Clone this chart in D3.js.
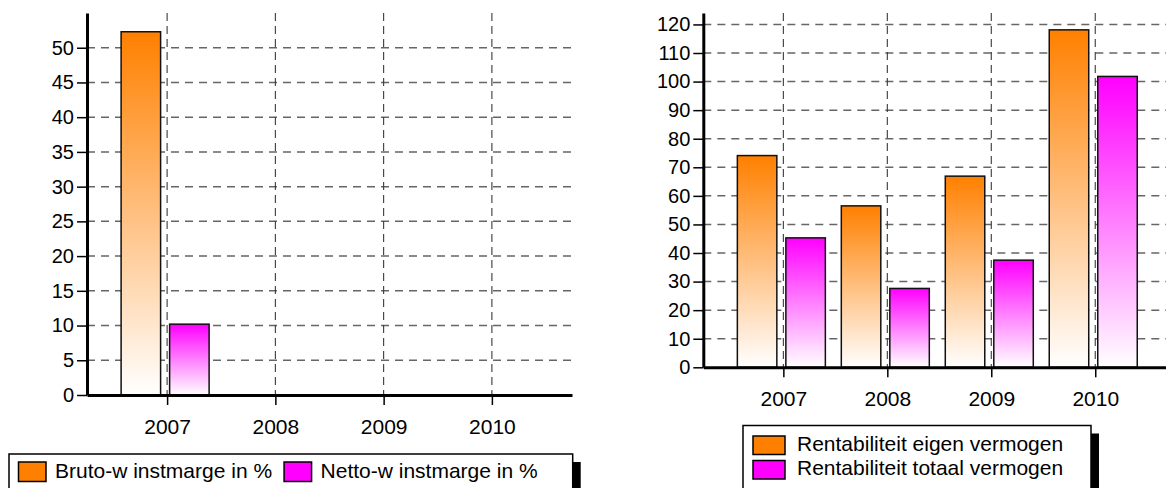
<!DOCTYPE html>
<html>
<head>
<meta charset="utf-8">
<script src="https://cdn.jsdelivr.net/npm/d3@7/dist/d3.min.js"></script>
<style>
  html, body { margin: 0; padding: 0; background: #fff; }
  svg { display: block; font-family: "Liberation Sans", Arial, sans-serif; }
</style>
</head>
<body>
<svg id="chart" width="1166" height="488"></svg>
<script>
// ---- data ----
const years = ["2007", "2008", "2009", "2010"];
const brutoWinstmarge = [52.3, null, null, null];
const nettoWinstmarge = [10.2, null, null, null];
const rentEigen = [74.1, 56.5, 66.9, 118.1];
const rentTotaal = [45.3, 27.6, 37.5, 101.8];
const leftTicks = [0, 5, 10, 15, 20, 25, 30, 35, 40, 45, 50];
const rightTicks = [0, 10, 20, 30, 40, 50, 60, 70, 80, 90, 100, 110, 120];
const leftLabels = ["Bruto-w instmarge in %", "Netto-w instmarge in %"];
const rightLabels = ["Rentabiliteit eigen vermogen", "Rentabiliteit totaal vermogen"];
const colors = ["#FF8000", "#FF00FF"];

const svg = d3.select("#chart");
const defs = svg.append("defs");
colors.forEach((c, i) => {
  const g = defs.append("linearGradient").attr("id", "grad" + i)
    .attr("x1", 0).attr("y1", 0).attr("x2", 0).attr("y2", 1);
  g.append("stop").attr("offset", "0%").attr("stop-color", c);
  g.append("stop").attr("offset", "100%").attr("stop-color", "#ffffff");
});

function drawChart(cfg) {
  const g = svg.append("g");
  const x = d3.scalePoint().domain(years).range([cfg.x0, cfg.x1]).padding(cfg.pad);
  const y = d3.scaleLinear().domain([0, cfg.ymax]).range([cfg.y0, cfg.yTop]);
  const sub = d3.scaleBand().domain([0, 1]).range([-46, 42]).paddingInner(0.186);

  // horizontal grid
  g.append("g").selectAll("line").data(cfg.ticks.filter(t => t > 0)).join("line")
    .attr("x1", cfg.x0).attr("x2", Math.min(cfg.x1, 1166))
    .attr("y1", d => y(d)).attr("y2", d => y(d))
    .attr("stroke", "#666").attr("stroke-width", 1.5)
    .attr("stroke-dasharray", "8,6");
  // vertical grid
  g.append("g").selectAll("line").data(years).join("line")
    .attr("x1", d => x(d)).attr("x2", d => x(d))
    .attr("y1", cfg.yTop).attr("y2", cfg.y0)
    .attr("stroke", "#3a3a3a").attr("stroke-width", 1.1)
    .attr("stroke-dasharray", "8,5");

  // bars
  cfg.series.forEach((vals, si) => {
    g.append("g").selectAll("rect")
      .data(years.map((yr, i) => ({ yr, v: vals[i] })).filter(d => d.v != null))
      .join("rect")
      .attr("x", d => x(d.yr) + sub(si))
      .attr("width", sub.bandwidth())
      .attr("y", d => y(d.v))
      .attr("height", d => y(0) - y(d.v))
      .attr("fill", "url(#grad" + si + ")")
      .attr("stroke", "#111").attr("stroke-width", 1.5);
  });

  // y axis
  const ya = g.append("g").attr("transform", `translate(${cfg.x0},0)`)
    .call(d3.axisLeft(y).tickValues(cfg.ticks).tickSize(10).tickSizeOuter(0).tickPadding(3));
  ya.select(".domain").attr("stroke", "#000").attr("stroke-width", 3);
  ya.selectAll(".tick line").attr("stroke", "#000").attr("stroke-width", 1.5);
  ya.selectAll(".tick text").attr("font-size", 20).attr("fill", "#000")
    .attr("font-family", "Liberation Sans, Arial, sans-serif");

  // x axis
  const xa = g.append("g").attr("transform", `translate(0,${cfg.y0})`)
    .call(d3.axisBottom(x).tickSize(10).tickSizeOuter(0).tickPadding(14));
  xa.select(".domain").attr("stroke", "#000").attr("stroke-width", 3);
  xa.selectAll(".tick line").attr("stroke", "#000").attr("stroke-width", 1.5);
  xa.selectAll(".tick text").attr("font-size", 21).attr("fill", "#000")
    .attr("font-family", "Liberation Sans, Arial, sans-serif");
}

drawChart({ x0: 87, x1: 572, pad: 0.74, y0: 395, yTop: 13, ymax: 55,
  ticks: leftTicks, series: [brutoWinstmarge, nettoWinstmarge] });
drawChart({ x0: 703.3, x1: 1175.3, pad: 0.77, y0: 367.3, yTop: 13, ymax: 124,
  ticks: rightTicks, series: [rentEigen, rentTotaal] });

// ---- legends ----
function legendBox(x, y, w, h) {
  svg.append("rect").attr("x", x + 8).attr("y", y + 8).attr("width", w).attr("height", h).attr("fill", "#000");
  svg.append("rect").attr("x", x).attr("y", y).attr("width", w).attr("height", h)
    .attr("fill", "#fff").attr("stroke", "#000").attr("stroke-width", 1.5);
}

// left legend (one row)
legendBox(9, 454, 563.7, 45);
let lx = 18.5;
leftLabels.forEach((lab, i) => {
  svg.append("rect").attr("x", lx).attr("y", 462).attr("width", 27.5).attr("height", 19.5)
    .attr("fill", colors[i]).attr("stroke", "#000").attr("stroke-width", 1.5);
  const t = svg.append("text").attr("x", lx + 36.5).attr("y", 477.5).attr("font-size", 21)
    .attr("fill", "#000").text(lab);
  lx = lx + 36.5 + t.node().getComputedTextLength() + 12;
});

// right legend (two rows)
legendBox(743, 425.5, 348, 70);
rightLabels.forEach((lab, i) => {
  svg.append("rect").attr("x", 753).attr("y", 436 + i * 24.5).attr("width", 32).attr("height", 18.5)
    .attr("fill", colors[i]).attr("stroke", "#000").attr("stroke-width", 1.5);
  svg.append("text").attr("x", 797).attr("y", 451 + i * 24).attr("font-size", 21)
    .attr("fill", "#000").text(lab);
});
</script>
</body>
</html>
